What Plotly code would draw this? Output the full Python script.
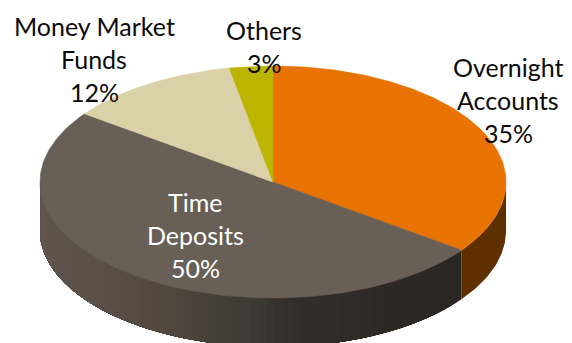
import numpy as np
import plotly.graph_objects as go

# Portfolio shares, clockwise from twelve o'clock
categories = ["Overnight Accounts", "Time Deposits", "Money Market Funds", "Others"]
shares = [35, 50, 12, 3]
top_colors = ["#e97300", "#685f56", "#dbd1a8", "#bdb400"]

# Label lines for each share and where each block of text is centred
label_lines = [["Overnight", "Accounts"], ["Time", "Deposits"], ["Money Market", "Funds"], ["Others"]]
label_colors = ["#0a0a0a", "#ffffff", "#0a0a0a", "#0a0a0a"]
label_centers = [(508, 100), (195, 235), (94, 59), (264, 46)]
line_pitch = 33

# Disc geometry in the page's pixel frame
cx, cy, rx, ry, depth = 273, 182, 233, 116, 49

# Wall shading: horizontal position -> colour, for the dark slice
wall_x = [40, 100, 170, 250, 300, 400, 460]
wall_r = [95, 90, 81, 63, 50, 44, 42]
wall_g = [85, 80, 71, 59, 46, 40, 38]
wall_b = [76, 72, 63, 53, 41, 35, 34]
orange_wall = "#5e2f00"


def point(theta):
    return cx + rx * np.sin(theta), cy - ry * np.cos(theta)


fig = go.Figure()


def add_polygon(xs, ys, color, outline=0.6):
    fig.add_trace(go.Scatter(
        x=xs, y=ys, mode="lines", fill="toself", fillcolor=color,
        line=dict(color=color, width=outline), hoverinfo="skip", showlegend=False,
    ))


edges = 2 * np.pi * np.cumsum([0] + shares) / sum(shares)

# Side wall: only the front half of the rim (3 to 9 o'clock) can be seen
for i, (a, b) in enumerate(zip(edges[:-1], edges[1:])):
    lo, hi = max(a, np.pi / 2), min(b, 3 * np.pi / 2)
    if lo >= hi:
        continue
    if i == 0:
        t = np.linspace(lo, hi, 40)
        x, y = point(t)
        add_polygon(np.r_[x, x[::-1]], np.r_[y, y[::-1] + depth], orange_wall, 0)
        continue
    # Each band overlaps everything to its left, so no seams show between bands
    for start in np.linspace(lo, hi, 70, endpoint=False):
        t = np.linspace(start, hi, 60)
        x, y = point(t)
        lead = x[0]
        color = "rgb({:.0f},{:.0f},{:.0f})".format(
            np.interp(lead, wall_x, wall_r),
            np.interp(lead, wall_x, wall_g),
            np.interp(lead, wall_x, wall_b),
        )
        add_polygon(np.r_[x, x[::-1]], np.r_[y, y[::-1] + depth], color, 0)

# Top face
for a, b, color in zip(edges[:-1], edges[1:], top_colors):
    t = np.linspace(a, b, 150)
    x, y = point(t)
    add_polygon(np.r_[cx, x, cx], np.r_[cy, y, cy], color)

# One annotation per text line so the line pitch stays exact
for lines, share, color, (lx, ly) in zip(label_lines, shares, label_colors, label_centers):
    rows = lines + [f"{share}%"]
    start = ly - line_pitch * (len(rows) - 1) / 2
    for j, row in enumerate(rows):
        fig.add_annotation(
            x=lx, y=start + j * line_pitch, text=row, showarrow=False,
            xanchor="center", yanchor="middle",
            font=dict(family="Lato", size=25, color=color),
        )

fig.update_layout(
    width=572, height=343, autosize=False,
    margin=dict(l=0, r=0, t=0, b=0),
    paper_bgcolor="white", plot_bgcolor="white", showlegend=False,
    xaxis=dict(range=[0, 572], visible=False, fixedrange=True),
    yaxis=dict(range=[343, 0], visible=False, fixedrange=True),
)
fig.write_html("out.html", config={"displayModeBar": False})
